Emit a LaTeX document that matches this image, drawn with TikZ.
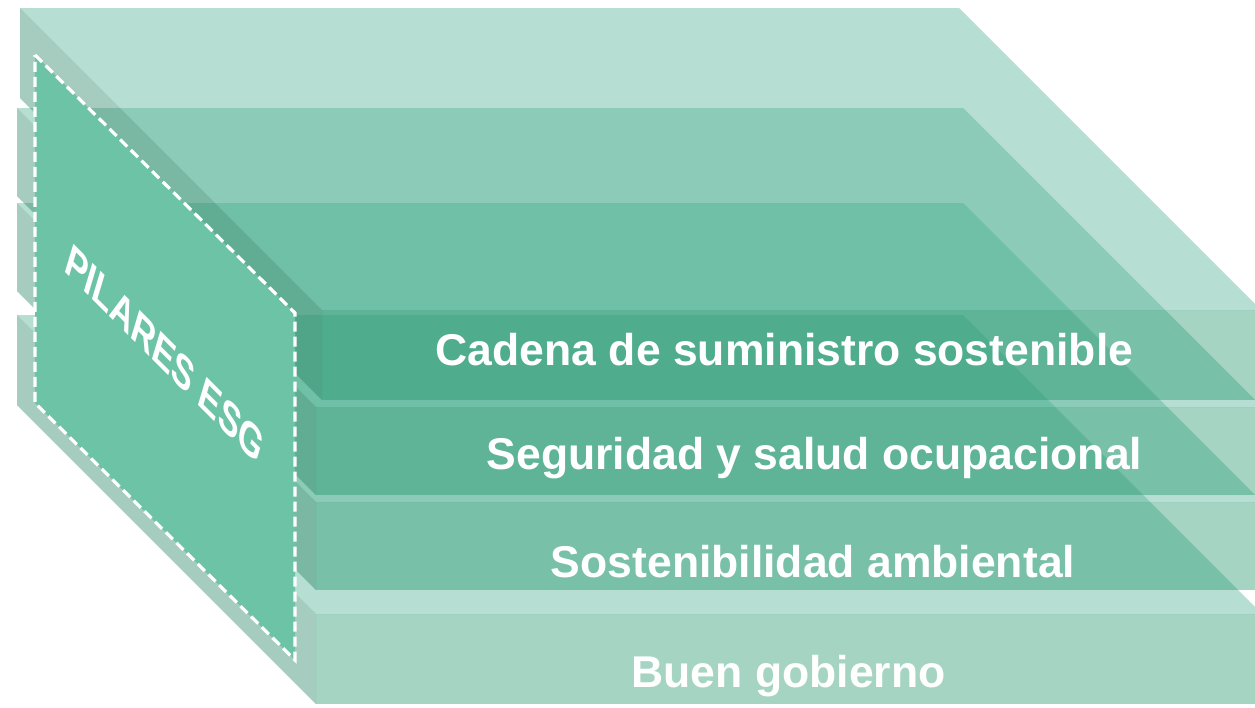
\documentclass[tikz,border=0pt]{standalone}
\usepackage{fontspec}
\setmainfont{Liberation Sans}
\definecolor{topc}{RGB}{73,173,143}
\definecolor{frontc}{RGB}{30,147,105}
\definecolor{leftc}{RGB}{33,128,95}
\definecolor{panelc}{RGB}{109,195,165}
\newcommand\slabbox[5]{%
  \pgfmathsetmacro\sxa{#1+#5}%
  \pgfmathsetmacro\sxb{#1+#3}%
  \pgfmathsetmacro\sxc{#1+#3+#5}%
  \pgfmathsetmacro\syf{#2+#3}%
  \pgfmathsetmacro\syg{#2+#3+#4}%
  \pgfmathsetmacro\syh{#2+#4}%
  \fill[topface] (#1,#2) -- (\sxa,#2) -- (\sxc,\syf) -- (\sxb,\syf) -- cycle;
  \fill[leftface] (#1,#2) -- (\sxb,\syf) -- (\sxb,\syg) -- (#1,\syh) -- cycle;
  \fill[frontface] (\sxb,\syf) rectangle (\sxc,\syg);
}
\tikzset{
  topface/.style={fill=topc, fill opacity=0.4},
  frontface/.style={fill=frontc, fill opacity=0.4},
  leftface/.style={fill=leftc, fill opacity=0.4},
  label/.style={text=white, font=\bfseries\fontsize{44.5}{44.5}\selectfont, anchor=base, inner sep=0pt},
  panel/.style={fill=panelc, draw=white, dash pattern=on 10pt off 5pt, line width=3.2pt},
}
\begin{document}
\begin{tikzpicture}[x=1pt,y=-1pt]
\useasboundingbox (0,0) rectangle (1255,707);
\clip (0,0) rectangle (1255,707);
\slabbox{17}{315}{299}{90}{946}
\slabbox{17}{203}{299}{88}{946}
\slabbox{17}{108}{299}{88}{946}
\slabbox{20}{8}{302}{90}{939}
\filldraw[panel] (35,55) -- (295,313) -- (295,660) -- (35,403) -- cycle;
\begin{scope}[shift={(165,353.5)}]
\node[text=white, font=\bfseries\fontsize{41}{41}\selectfont, cm={0.707,-0.707,0.3,1.0,(0,0)}, inner sep=0pt] (esg) at (0,0) {PILARES ESG};
\end{scope}
\node[label] (cadena) at (784.5,365) {Cadena de suministro sostenible};
\node[label] (seguridad) at (814.5,469) {Seguridad y salud ocupacional};
\node[label] (sosten) at (813,577) {Sostenibilidad ambiental};
\node[label] (buen) at (788.5,687) {Buen gobierno};
\end{tikzpicture}
\end{document}
